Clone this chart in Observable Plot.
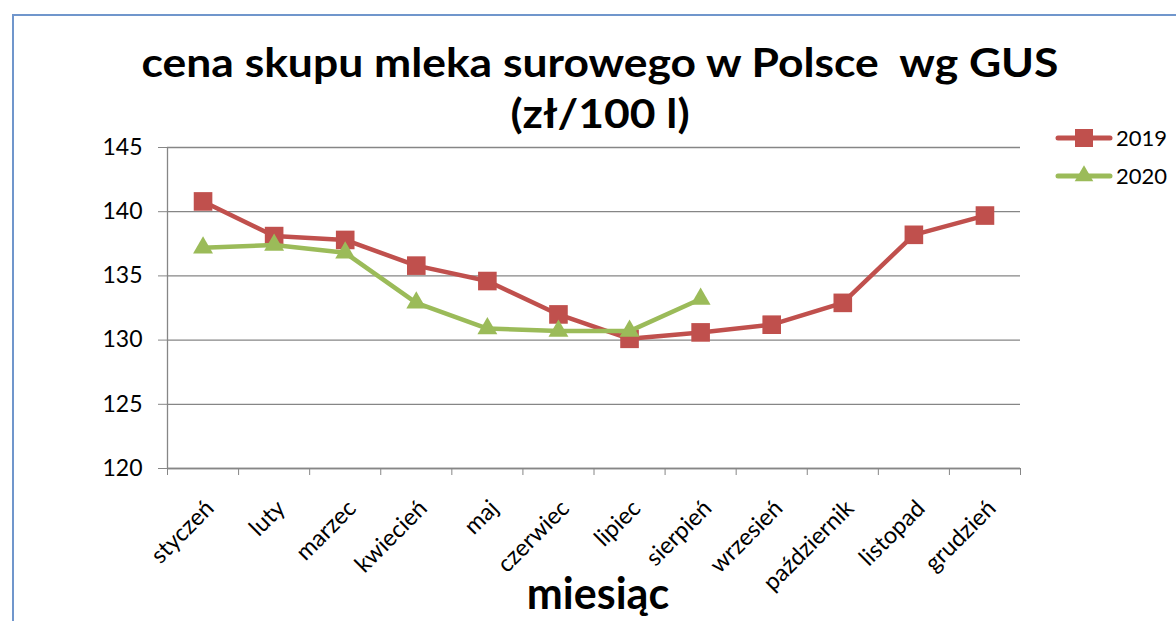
<!DOCTYPE html>
<html><head><meta charset="utf-8">
<script src="https://cdn.jsdelivr.net/npm/d3@7"></script>
<script src="https://cdn.jsdelivr.net/npm/@observablehq/plot@0.6"></script>
<style>
body{margin:0;background:#fff;overflow:hidden}
#wrap{position:relative;width:1176px;height:621px;font-family:Lato,sans-serif;overflow:hidden}
#frame{position:absolute;left:12px;top:14px;width:1300px;height:700px;border-left:2px solid #7096CC;border-top:2px solid #7096CC}
#chart{position:absolute;left:0;top:0}
#title{position:absolute;left:0;width:1200px;top:37px;text-align:center;font-weight:bold;font-size:40px;line-height:51px;color:#000;transform:scaleX(1.11);transform-origin:600px 0}
#xlabel{position:absolute;left:0;width:1196px;top:566px;text-align:center;font-weight:bold;font-size:43px;line-height:53px;color:#000}
#legend{position:absolute;left:0;top:0}
</style></head><body>
<div id="wrap">
<div id="frame"></div>
<div id="chart"></div>
<div id="title">cena skupu mleka surowego w Polsce&nbsp; wg GUS<br>(zł/100 l)</div>
<div id="xlabel">miesiąc</div>
<svg id="legend" width="1176" height="621" style="pointer-events:none"></svg>
</div>
<script>
const months = ["styczeń","luty","marzec","kwiecień","maj","czerwiec","lipiec","sierpień","wrzesień","październik","listopad","grudzień"];
const v2019 = [140.8,138.1,137.8,135.8,134.6,132.0,130.1,130.6,131.2,132.9,138.2,139.7];
const v2020 = [137.2,137.4,136.8,132.9,130.9,130.7,130.7,133.2];
const yTicks = [120,125,130,135,140,145];
const seriesNames = ["2019","2020"];
const seriesColors = ["#C0504D","#9BBB59"];
const seriesSymbols = ["square","triangle"];

const d2019 = v2019.map((v,i)=>({x:i+0.5, v}));
const d2020 = v2020.map((v,i)=>({x:i+0.5, v}));
const grey = "#868686";

const chart = Plot.plot({
  width:1176, height:621,
  marginLeft:167, marginRight:156, marginTop:147, marginBottom:153,
  style:{fontFamily:"Lato, sans-serif", background:"transparent"},
  x:{domain:[0,months.length]},
  y:{domain:[120,145]},
  marks:[
    Plot.gridY(yTicks,{stroke:grey, strokeOpacity:1, strokeWidth:1.3}),
    Plot.axisY(yTicks,{tickSize:9, tickPadding:16, fontSize:23, stroke:grey, fill:"#000", label:null}),
    Plot.axisX(d3.range(months.length+1),{tickSize:7, tickFormat:()=>"", stroke:grey, label:null}),
    Plot.ruleX([0],{stroke:grey, strokeWidth:1.3}),
    Plot.ruleY([120],{stroke:grey, strokeWidth:1.3}),
    Plot.text(months,{x:(d,i)=>i+0.5, y:()=>120, text:d=>d, rotate:-45, textAnchor:"end", dx:7, dy:36, fontSize:23.5, fill:"#000"}),
    Plot.line(d2019,{x:"x", y:"v", stroke:seriesColors[0], strokeWidth:4.5}),
    Plot.dot(d2019,{x:"x", y:"v", symbol:seriesSymbols[0], r:10.5, fill:seriesColors[0], stroke:"none"}),
    Plot.line(d2020,{x:"x", y:"v", stroke:seriesColors[1], strokeWidth:4.5}),
    Plot.dot(d2020,{x:"x", y:"v", symbol:seriesSymbols[1], r:7.4, fill:seriesColors[1], stroke:"none"})
  ]
});
document.getElementById("chart").appendChild(chart);

const lg = d3.select("#legend");
const legendY = [138, 176];
seriesNames.forEach((n,k)=>{
  const y = legendY[k];
  lg.append("line").attr("x1",1058).attr("x2",1110).attr("y1",y).attr("y2",y)
    .attr("stroke",seriesColors[k]).attr("stroke-width",5).attr("stroke-linecap","round");
  lg.append("path").attr("d", d3.symbol(k===0?d3.symbolSquare:d3.symbolTriangle, k===0?324:150)())
    .attr("transform",`translate(1084,${y})`).attr("fill",seriesColors[k]);
  lg.append("text").attr("x",1116).attr("y",y+8).attr("font-size",22).attr("font-family","Lato, sans-serif").attr("fill","#000").text(n);
});
</script>
</body></html>
